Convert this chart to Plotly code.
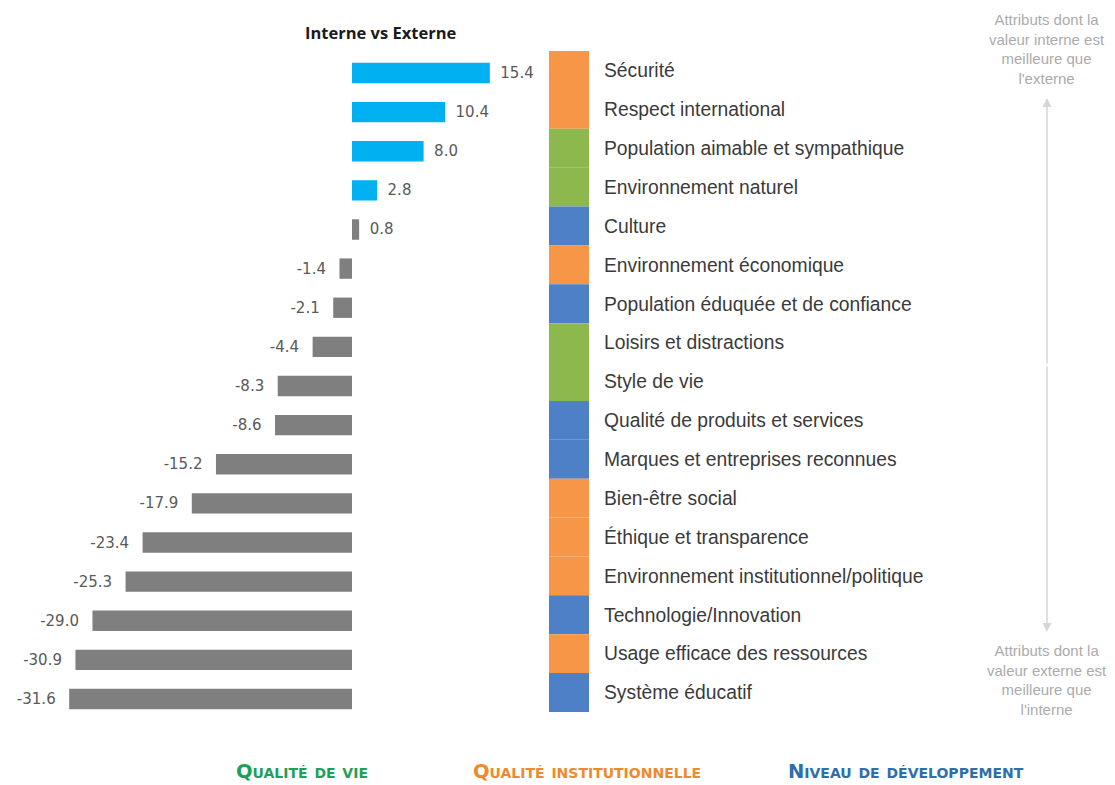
import plotly.graph_objects as go

categories = [
    "Sécurité", "Respect international", "Population aimable et sympathique",
    "Environnement naturel", "Culture", "Environnement économique",
    "Population éduquée et de confiance", "Loisirs et distractions", "Style de vie",
    "Qualité de produits et services", "Marques et entreprises reconnues",
    "Bien-être social", "Éthique et transparence",
    "Environnement institutionnel/politique", "Technologie/Innovation",
    "Usage efficace des ressources", "Système éducatif",
]
values = [15.4, 10.4, 8.0, 2.8, 0.8, -1.4, -2.1, -4.4, -8.3, -8.6,
          -15.2, -17.9, -23.4, -25.3, -29.0, -30.9, -31.6]
groups = ["inst", "inst", "vie", "vie", "dev", "inst", "dev", "vie", "vie",
          "dev", "dev", "inst", "inst", "inst", "dev", "inst", "dev"]
group_names = {"vie": "Qualité de vie", "inst": "Qualité institutionnelle",
               "dev": "Niveau de développement"}

strip_colors = {"inst": "#F79646", "vie": "#8DB84E", "dev": "#4D80C6"}
legend_colors = {"vie": "#1FA05A", "inst": "#EE8A2E", "dev": "#2F6EA8"}

W, H = 1115, 785
def px_x(p): return p / W
def px_y(p): return 1 - p / H

bar_colors = ["#00B0F0" if v > 1 else "#7F7F7F" for v in values]
SP = "\u2002"
labels = [(SP + f"{v:.1f}") if v >= 0 else (f"{v:.1f}" + SP + "\u2009") for v in values]

fig = go.Figure()
fig.add_trace(go.Bar(
    y=categories, x=values, orientation="h", width=0.52,
    marker=dict(color=bar_colors, line=dict(width=0)),
    text=labels, textposition="outside", cliponaxis=False,
    textfont=dict(family="DejaVu Sans", size=15, color="#595959"),
    hoverinfo="skip", xaxis="x", yaxis="y",
))
fig.add_trace(go.Bar(
    y=categories, x=[1] * len(categories), orientation="h", width=1,
    marker=dict(color=[strip_colors[g] for g in groups], line=dict(width=0)),
    hoverinfo="skip", xaxis="x2", yaxis="y2",
))

zero_px, scale = 352, 8.95
fig.update_layout(
    width=W, height=H, margin=dict(l=0, r=0, t=0, b=0),
    paper_bgcolor="white", plot_bgcolor="white", showlegend=False,
    xaxis=dict(domain=[0, px_x(540)], range=[-zero_px / scale, (540 - zero_px) / scale],
               visible=False, fixedrange=True),
    yaxis=dict(domain=[px_y(718.6), px_y(53.4)], autorange="reversed",
               visible=False, anchor="x"),
    xaxis2=dict(domain=[px_x(549), px_x(589)], range=[0, 1], visible=False),
    yaxis2=dict(domain=[px_y(712), px_y(51)], autorange="reversed", anchor="x2",
                side="right", showline=False, showgrid=False, zeroline=False,
                ticks="", ticklabelstandoff=14,
                tickfont=dict(family="Liberation Sans", size=19.3, color="#3A3A3A")),
)

ann = []
ann.append(dict(x=px_x(303), y=px_y(33), xref="paper", yref="paper", xanchor="left",
                yanchor="middle", showarrow=False, text="<b>Interne vs Externe</b>",
                font=dict(family="Open Sans", size=16.5, color="#1A1A1A")))
ann.append(dict(x=px_x(1047), y=px_y(49), xref="paper", yref="paper", xanchor="center",
                yanchor="middle", showarrow=False,
                text="Attributs dont la<br>valeur interne est<br>meilleure que<br>l'externe",
                font=dict(family="Liberation Sans", size=15, color="#ABABAB")))
ann.append(dict(x=px_x(1047), y=px_y(680), xref="paper", yref="paper", xanchor="center",
                yanchor="middle", showarrow=False,
                text="Attributs dont la<br>valeur externe est<br>meilleure que<br>l'interne",
                font=dict(family="Liberation Sans", size=15, color="#ABABAB")))
for ytip, ay in [(98, 267), (632, -267)]:
    ann.append(dict(x=px_x(1047), y=px_y(ytip), xref="paper", yref="paper", text="",
                    showarrow=True, ax=0, ay=ay, arrowhead=2, arrowsize=1.2,
                    arrowwidth=1.5, arrowcolor="#D6D6D6"))
for key, xc in [("vie", 302), ("inst", 587), ("dev", 906)]:
    ann.append(dict(x=px_x(xc), y=px_y(771), xref="paper", yref="paper", xanchor="center",
                    yanchor="middle", showarrow=False, text=group_names[key],
                    font=dict(family="DejaVu Sans", size=19.5, weight="bold",
                              variant="small-caps", color=legend_colors[key])))
fig.update_layout(annotations=ann)

fig.write_html("out.html", config={"displayModeBar": False},
               post_script="document.body.style.margin='0';document.body.style.padding='0';")
